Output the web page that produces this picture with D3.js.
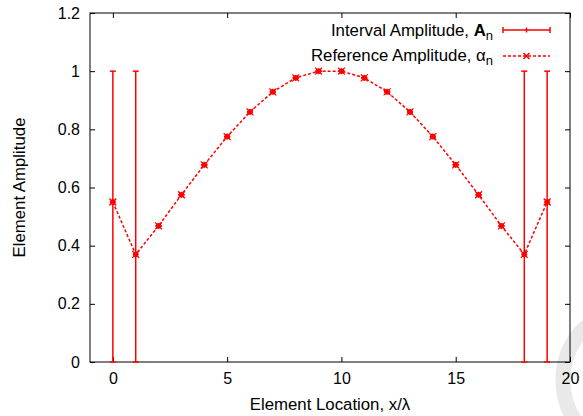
<!DOCTYPE html>
<html>
<head>
<meta charset="utf-8">
<script src="https://cdn.jsdelivr.net/npm/d3@7"></script>
<style>
html,body{margin:0;padding:0;background:#fff;}
svg{display:block;font-family:"Liberation Sans",Arial,sans-serif;}
</style>
</head>
<body>
<svg id="chart" width="583" height="416"></svg>
<script>
// ---- data ----
const elementIndex = [0,1,2,3,4,5,6,7,8,9,10,11,12,13,14,15,16,17,18,19];
const referenceAmplitude = [0.55,0.37,0.468,0.575,0.678,0.775,0.86,0.929,0.977,1.0,1.0,0.977,0.929,0.86,0.775,0.678,0.575,0.468,0.37,0.55];
const intervalLow  = [0,0,0.468,0.575,0.678,0.775,0.86,0.929,0.977,1.0,1.0,0.977,0.929,0.86,0.775,0.678,0.575,0.468,0,0];
const intervalHigh = [1,1,0.468,0.575,0.678,0.775,0.86,0.929,0.977,1.0,1.0,0.977,0.929,0.86,0.775,0.678,0.575,0.468,1,1];
const xTicks = [0,5,10,15,20];
const yTicks = [0,0.2,0.4,0.6,0.8,1,1.2];
const xTitle = "Element Location, x/λ";
const yTitle = "Element Amplitude";

const svg = d3.select("#chart");
const L = 90, R = 570, T = 13, B = 362;
const FS = 16, FT = 16.8;
const x = d3.scaleLinear().domain([-1,20]).range([L,R]);
const y = d3.scaleLinear().domain([0,1.2]).range([B,T]);
const red = "#ff0000";

// watermark arc
svg.append("ellipse").attr("cx",618).attr("cy",380).attr("rx",55).attr("ry",65)
  .attr("fill","none").attr("stroke","#e9e9e9").attr("stroke-width",15);

// axes (inward ticks, mirrored)
const fmt = d => d3.format("")(+d.toFixed(1));
svg.append("g").attr("transform",`translate(0,${B})`)
  .call(d3.axisBottom(x).tickValues(xTicks).tickSize(-5).tickPadding(11).tickFormat(d=>d))
  .call(g=>g.select(".domain").remove());
svg.append("g").attr("transform",`translate(0,${T})`)
  .call(d3.axisTop(x).tickValues(xTicks).tickSize(-5).tickFormat(""))
  .call(g=>g.select(".domain").remove());
svg.append("g").attr("transform",`translate(${L},0)`)
  .call(d3.axisLeft(y).tickValues(yTicks).tickSize(-5).tickPadding(10).tickFormat(fmt))
  .call(g=>g.select(".domain").remove());
svg.append("g").attr("transform",`translate(${R},0)`)
  .call(d3.axisRight(y).tickValues(yTicks).tickSize(-5).tickFormat(""))
  .call(g=>g.select(".domain").remove());
svg.selectAll(".tick line").attr("stroke","#000");
svg.selectAll(".tick text").attr("font-size",FS).attr("fill","#000")
  .attr("font-family","'Liberation Sans',Arial,sans-serif");

svg.append("rect").attr("x",L).attr("y",T).attr("width",R-L).attr("height",B-T)
  .attr("fill","none").attr("stroke","#000").attr("stroke-width",1);

// titles
svg.append("text").attr("x",(L+R)/2).attr("y",410).attr("text-anchor","middle")
  .attr("font-size",FT).text(xTitle);
svg.append("text").attr("transform",`translate(25,${(T+B)/2}) rotate(-90)`)
  .attr("text-anchor","middle").attr("font-size",FT).text(yTitle);

// error bars (Interval Amplitude)
const eb = svg.append("g").attr("stroke",red).attr("stroke-width",1.5);
elementIndex.forEach((xi,i)=>{
  const cx = x(xi);
  eb.append("line").attr("x1",cx).attr("x2",cx).attr("y1",y(intervalLow[i])).attr("y2",y(intervalHigh[i]));
  eb.append("line").attr("x1",cx-3).attr("x2",cx+3).attr("y1",y(intervalLow[i])).attr("y2",y(intervalLow[i]));
  eb.append("line").attr("x1",cx-3).attr("x2",cx+3).attr("y1",y(intervalHigh[i])).attr("y2",y(intervalHigh[i]));
  const cy = y(referenceAmplitude[i]);
  eb.append("line").attr("x1",cx-3).attr("x2",cx+3).attr("y1",cy).attr("y2",cy);
  eb.append("line").attr("x1",cx).attr("x2",cx).attr("y1",cy-3).attr("y2",cy+3);
});

// reference amplitude dashed line
const line = d3.line().x((d,i)=>x(elementIndex[i])).y(d=>y(d));
svg.append("path").datum(referenceAmplitude).attr("d",line)
  .attr("fill","none").attr("stroke",red).attr("stroke-width",1.5).attr("stroke-dasharray","3,2");

function xMarker(g,cx,cy){
  g.append("rect").attr("x",cx-2.5).attr("y",cy-2.5).attr("width",5).attr("height",5).attr("fill",red);
  g.append("path").attr("d",`M${cx-3.5},${cy-3.5}L${cx+3.5},${cy+3.5}M${cx-3.5},${cy+3.5}L${cx+3.5},${cy-3.5}`)
    .attr("stroke",red).attr("stroke-width",1.2);
}
const mk = svg.append("g");
referenceAmplitude.forEach((v,i)=>xMarker(mk,x(elementIndex[i]),y(v)));

// legend
const lg = svg.append("g").attr("font-size",FT);
const t1 = lg.append("text").attr("x",493).attr("y",36).attr("text-anchor","end");
t1.append("tspan").text("Interval Amplitude, ");
t1.append("tspan").attr("font-weight","bold").text("A");
t1.append("tspan").attr("font-size",13).attr("dy",4).text("n");
const t2 = lg.append("text").attr("x",493).attr("y",61).attr("text-anchor","end");
t2.append("tspan").text("Reference Amplitude, α");
t2.append("tspan").attr("font-size",13).attr("dy",4).text("n");

const l1 = lg.append("g").attr("stroke",red).attr("stroke-width",1.5);
l1.append("line").attr("x1",503).attr("x2",550).attr("y1",30).attr("y2",30);
l1.append("line").attr("x1",503).attr("x2",503).attr("y1",27).attr("y2",33);
l1.append("line").attr("x1",550).attr("x2",550).attr("y1",27).attr("y2",33);
l1.append("line").attr("x1",526.5).attr("x2",526.5).attr("y1",27.5).attr("y2",32.5);
lg.append("line").attr("x1",503).attr("x2",550).attr("y1",56).attr("y2",56)
  .attr("stroke",red).attr("stroke-width",1.5).attr("stroke-dasharray","3,2");
lg.append("path").attr("d","M523.5,53L529.5,59M523.5,59L529.5,53").attr("stroke",red).attr("stroke-width",1.5);
</script>
</body>
</html>
